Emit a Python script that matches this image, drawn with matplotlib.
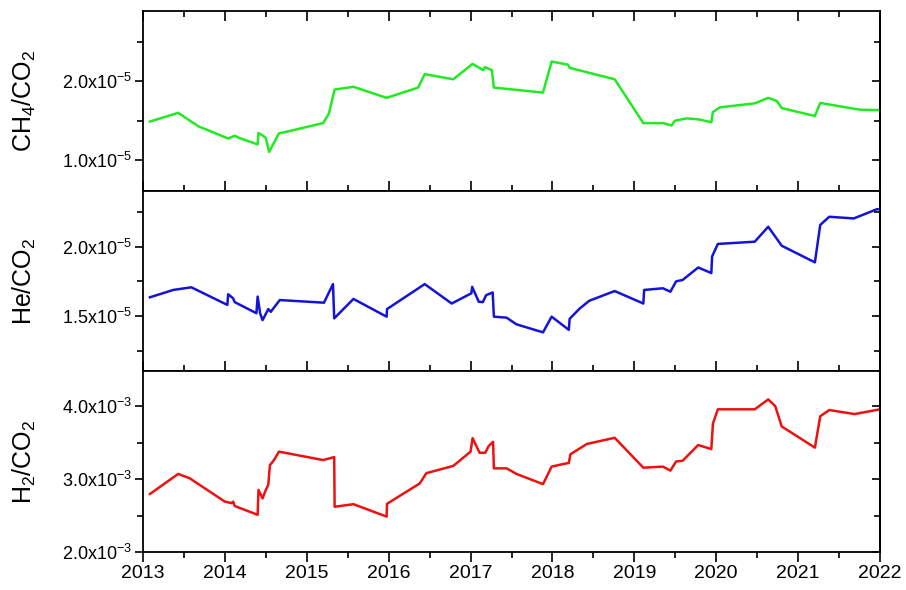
import numpy as np
import matplotlib
matplotlib.use("Agg")
import matplotlib.pyplot as plt
from matplotlib.ticker import MultipleLocator, FuncFormatter

plt.rcParams['font.family'] = ['Liberation Sans', 'DejaVu Sans']
plt.rcParams['mathtext.fontset'] = 'custom'
plt.rcParams['mathtext.rm'] = 'Liberation Sans'
plt.rcParams['mathtext.it'] = 'Liberation Sans:italic'
plt.rcParams['mathtext.bf'] = 'Liberation Sans:bold'

# CH4/CO2 (x1e-5) vs decimal year
ch4_t = [2013.085, 2013.43, 2013.675, 2014.04, 2014.12, 2014.18, 2014.40, 2014.41,
         2014.48, 2014.50, 2014.54, 2014.66, 2014.75, 2015.20, 2015.27, 2015.34,
         2015.57, 2015.975, 2016.36, 2016.44, 2016.79, 2017.025, 2017.155, 2017.175,
         2017.26, 2017.285, 2017.885, 2017.99, 2018.19, 2018.21, 2018.76, 2019.11,
         2019.35, 2019.455, 2019.495, 2019.64, 2019.80, 2019.94, 2019.96, 2020.045,
         2020.47, 2020.635, 2020.74, 2020.80, 2021.205, 2021.27, 2021.755, 2022.0]
ch4_v = [1.49, 1.60, 1.43, 1.275, 1.31, 1.28, 1.20, 1.345,
         1.30, 1.28, 1.105, 1.34, 1.36, 1.47, 1.59, 1.895,
         1.93, 1.79, 1.92, 2.09, 2.025, 2.22, 2.14, 2.18,
         2.14, 1.92, 1.857, 2.25, 2.21, 2.17, 2.025, 1.47,
         1.47, 1.44, 1.50, 1.53, 1.515, 1.48, 1.61, 1.67,
         1.72, 1.79, 1.75, 1.66, 1.56, 1.725, 1.64, 1.635]

# He/CO2 (x1e-5)
he_t = [2013.085, 2013.37, 2013.59, 2014.03, 2014.04, 2014.10, 2014.12, 2014.385,
        2014.40, 2014.43, 2014.46, 2014.53, 2014.56, 2014.67, 2015.21, 2015.32,
        2015.335, 2015.57, 2015.975, 2015.98, 2016.44, 2016.77, 2017.01, 2017.02,
        2017.10, 2017.15, 2017.19, 2017.27, 2017.285, 2017.44, 2017.56, 2017.885,
        2017.99, 2018.20, 2018.21, 2018.335, 2018.45, 2018.76, 2019.11, 2019.12,
        2019.35, 2019.44, 2019.51, 2019.59, 2019.78, 2019.94, 2019.95, 2020.02,
        2020.47, 2020.635, 2020.80, 2021.205, 2021.27, 2021.38, 2021.68, 2021.96, 2022.0]
he_v = [1.635, 1.688, 1.707, 1.58, 1.657, 1.628, 1.60, 1.52,
        1.64, 1.52, 1.47, 1.55, 1.53, 1.615, 1.596, 1.73,
        1.483, 1.623, 1.495, 1.55, 1.73, 1.59, 1.664, 1.71,
        1.603, 1.60, 1.65, 1.67, 1.495, 1.488, 1.44, 1.382,
        1.495, 1.40, 1.48, 1.555, 1.61, 1.68, 1.59, 1.688,
        1.70, 1.675, 1.75, 1.76, 1.85, 1.81, 1.93, 2.02,
        2.036, 2.144, 2.007, 1.887, 2.157, 2.216, 2.204, 2.27, 2.27]

# H2/CO2 (x1e-3)
h2_t = [2013.085, 2013.43, 2013.57, 2014.0, 2014.08, 2014.10, 2014.12, 2014.40,
        2014.41, 2014.46, 2014.50, 2014.53, 2014.55, 2014.60, 2014.66, 2015.20,
        2015.335, 2015.34, 2015.57, 2015.975, 2015.98, 2016.38, 2016.46, 2016.79,
        2017.0, 2017.025, 2017.11, 2017.18, 2017.22, 2017.275, 2017.285, 2017.44,
        2017.56, 2017.885, 2017.99, 2018.13, 2018.20, 2018.22, 2018.42, 2018.76,
        2019.11, 2019.35, 2019.44, 2019.51, 2019.59, 2019.78, 2019.94, 2019.96,
        2020.02, 2020.47, 2020.635, 2020.72, 2020.80, 2021.205, 2021.27, 2021.38,
        2021.69, 2022.0]
h2_v = [2.795, 3.07, 3.01, 2.69, 2.67, 2.69, 2.63, 2.51,
        2.85, 2.735, 2.85, 2.92, 3.19, 3.26, 3.375, 3.26,
        3.30, 2.62, 2.655, 2.485, 2.66, 2.94, 3.08, 3.18,
        3.375, 3.56, 3.36, 3.36, 3.45, 3.51, 3.146, 3.146,
        3.07, 2.93, 3.17, 3.205, 3.22, 3.34, 3.48, 3.565,
        3.155, 3.17, 3.115, 3.24, 3.25, 3.466, 3.41, 3.76,
        3.955, 3.955, 4.09, 4.0, 3.72, 3.43, 3.86, 3.945,
        3.89, 3.955]

years = list(range(2013, 2023))

fig = plt.figure(figsize=(9.06, 5.9), dpi=100)
left, width = 143 / 906, (880 - 143) / 906
edges = [11, 191, 371, 552]
axes = []
for i in range(3):
    bottom = 1 - edges[i + 1] / 590
    height = (edges[i + 1] - edges[i]) / 590
    axes.append(fig.add_axes([left, bottom, width, height]))

series = [
    (ch4_t, np.array(ch4_v) * 1e-5, '#22ea22', r'CH$_4$/CO$_2$', (0.61e-5, 2.89e-5), 1e-5, 0.5e-5, -5),
    (he_t, np.array(he_v) * 1e-5, '#1414d8', r'He/CO$_2$', (1.103e-5, 2.402e-5), 0.5e-5, 0.25e-5, -5),
    (h2_t, np.array(h2_v) * 1e-3, '#ee1111', r'H$_2$/CO$_2$', (2.0e-3, 4.48e-3), 1e-3, 0.5e-3, -3),
]

for i, (ax, (t, v, col, lab, ylim, maj, mnr, ex)) in enumerate(zip(axes, series)):
    ax.plot(t, v, color=col, lw=1.8)
    ax.set_xlim(2013, 2022)
    ax.set_ylim(*ylim)
    ax.yaxis.set_major_locator(MultipleLocator(maj))
    ax.yaxis.set_minor_locator(MultipleLocator(mnr))
    ax.yaxis.set_major_formatter(FuncFormatter(
        lambda y, p, ex=ex: '%.1fx10$^{%d}$' % (y / 10.0 ** ex, ex)))
    ax.xaxis.set_major_locator(MultipleLocator(1))
    ax.xaxis.set_minor_locator(MultipleLocator(0.5))
    ax.set_ylabel(lab, fontsize=18)
    ax.yaxis.set_label_coords(-0.143, 0.5)
    for s in ax.spines.values():
        s.set_linewidth(1.3)
    ax.tick_params(axis='y', which='both', left=True, right=False, direction='out',
                   labelsize=13, width=1.2, pad=2)
    ax.tick_params(axis='y', which='major', length=6)
    ax.tick_params(axis='y', which='minor', length=4)
    ax.tick_params(axis='x', which='both', width=1.2, labelsize=14)
    ax.tick_params(axis='x', which='major', length=7)
    ax.tick_params(axis='x', which='minor', length=4)
    # right-side inward ticks
    sec = ax.secondary_yaxis('right')
    sec.yaxis.set_major_locator(MultipleLocator(maj))
    sec.yaxis.set_minor_locator(MultipleLocator(mnr))
    sec.tick_params(which='both', direction='in', labelright=False, width=1.2)
    sec.tick_params(which='major', length=6)
    sec.tick_params(which='minor', length=4)
    sec.spines['right'].set_linewidth(1.3)
    if i < 2:
        ax.tick_params(axis='x', which='both', direction='in', bottom=True,
                       top=(i == 0), labelbottom=False)
    else:
        ax.tick_params(axis='x', which='both', direction='out', bottom=True,
                       top=False, pad=2)
        ax.set_xticks(years)
        ax.set_xticklabels([str(y) for y in years])

fig.savefig('out.png', dpi=100)
